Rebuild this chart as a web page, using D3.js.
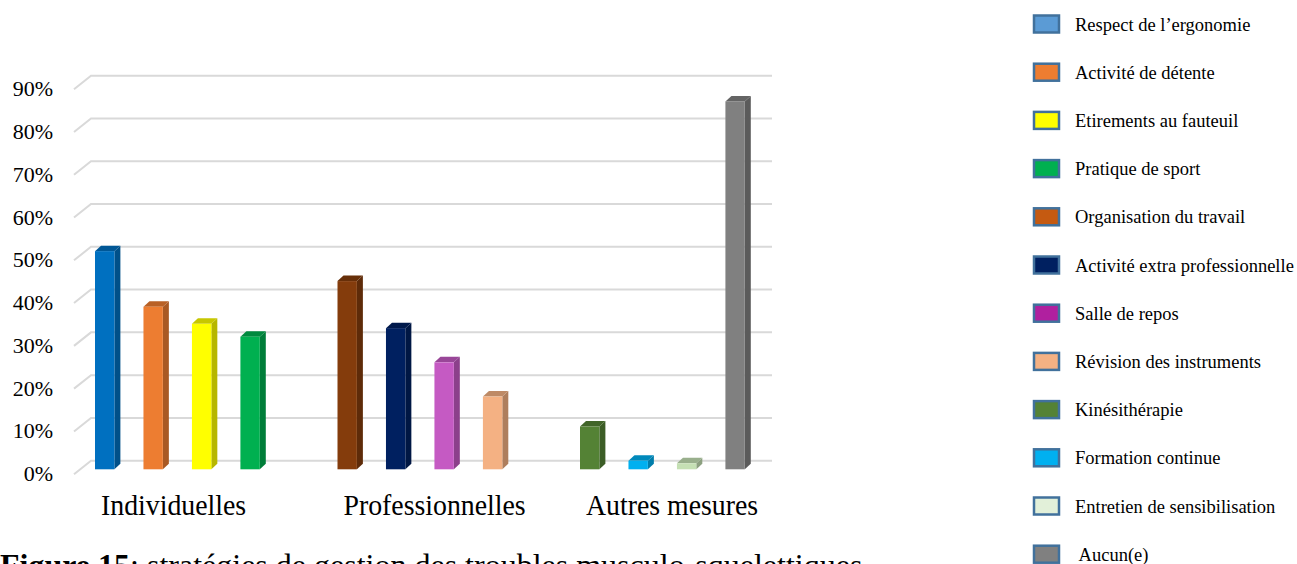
<!DOCTYPE html>
<html>
<head>
<meta charset="utf-8">
<script src="https://cdn.jsdelivr.net/npm/d3@7"></script>
<style>
  html, body { margin: 0; padding: 0; background: #fff; }
  svg { display: block; }
  text { font-family: "Liberation Serif", "Times New Roman", serif; fill: #000; }
</style>
</head>
<body>
<svg id="chart" width="1297" height="564"></svg>
<script>
// Stratégies de gestion des troubles musculo-squelettiques
const categories = ["Individuelles", "Professionnelles", "Autres mesures"];
const seriesNames = [
  "Respect de l\u2019ergonomie", "Activité de détente", "Etirements au fauteuil", "Pratique de sport",
  "Organisation du travail", "Activité extra professionnelle", "Salle de repos", "Révision des instruments",
  "Kinésithérapie", "Formation continue", "Entretien de sensibilisation", " Aucun(e)"
];
const seriesCategory = [0, 0, 0, 0, 1, 1, 1, 1, 2, 2, 2, 2];
const seriesSlot = [0, 1, 2, 3, 0, 1, 2, 3, 0, 1, 2, 3];
const seriesValues = [0.51, 0.38, 0.34, 0.31, 0.44, 0.33, 0.25, 0.17, 0.10, 0.02, 0.014, 0.86];
const barColors = ["#0070c0", "#ed7d31", "#ffff00", "#00b050", "#843c0c", "#002060",
                   "#c55ac3", "#f4b183", "#548235", "#00b0f0", "#c5e0b4", "#808080"];
const legendColors = ["#5b9bd5", "#ed7d31", "#ffff00", "#00b050", "#c55a11", "#002060",
                      "#b0209f", "#f4b183", "#548235", "#00b0f0", "#e2f0d9", "#808080"];
const tickValues = [0, 0.1, 0.2, 0.3, 0.4, 0.5, 0.6, 0.7, 0.8, 0.9];

const svg = d3.select("#chart");

// Back wall scale and oblique depth offsets
const y = d3.scaleLinear().domain([0, 0.9]).range([460.7, 75.7]);
const floorDx = 17, floorDy = 13.5;   // wall-to-front offset of the floor edge
const frontDy = 8.6;                  // bar front plane below the wall
const barDx = 6, barDy = 5.5;         // bar depth

const gx = d3.scaleBand().domain(categories).range([95, 95 + 3 * 242.5]);
const sx = d3.scaleBand().domain([0, 1, 2, 3]).range([0, 164.8]).paddingInner(0.6).paddingOuter(0);
const wallLeft = 91, wallRight = 772;

// Gridlines on the back wall with floor-side diagonals
const grid = svg.append("g").attr("stroke", "#d9d9d9").attr("stroke-width", 2).attr("fill", "none");
tickValues.forEach(v => {
  grid.append("path")
    .attr("d", d3.line()([[wallLeft - floorDx, y(v) + floorDy], [wallLeft, y(v)], [wallRight, y(v)]]));
});

// Y tick labels
svg.append("g").selectAll("text").data(tickValues).join("text")
  .attr("x", 53)
  .attr("y", d => y(d) + 20.5)
  .attr("text-anchor", "end")
  .attr("font-size", 22)
  .text(d3.format(".0%"));

// 3D columns
const bars = svg.append("g");
seriesValues.forEach((v, i) => {
  const x0 = gx(categories[seriesCategory[i]]) + sx(seriesSlot[i]);
  const w = sx.bandwidth();
  const base = y(0) + frontDy;
  const top = y(v) + frontDy;
  const c = d3.color(barColors[i]);
  const g = bars.append("g");
  g.append("polygon")
    .attr("points", [[x0 + w, top], [x0 + w + barDx, top - barDy], [x0 + w + barDx, base - barDy], [x0 + w, base]].join(" "))
    .attr("fill", c.darker(0.95));
  g.append("polygon")
    .attr("points", [[x0, top], [x0 + barDx, top - barDy], [x0 + w + barDx, top - barDy], [x0 + w, top]].join(" "))
    .attr("fill", c.darker(0.7));
  g.append("rect")
    .attr("x", x0).attr("y", top)
    .attr("width", w).attr("height", base - top)
    .attr("fill", c);
});

// Category labels
svg.append("g").selectAll("text").data(categories).join("text")
  .attr("transform", d => `translate(${gx(d) + 6},515) scale(0.927,1)`)
  .attr("font-size", 30)
  .text(d => d);

// Legend
const legend = svg.append("g");
seriesNames.forEach((name, i) => {
  const cy = 24 + 48.2 * i;
  legend.append("rect")
    .attr("x", 1034).attr("y", cy - 8.5)
    .attr("width", 25).attr("height", 17)
    .attr("fill", legendColors[i])
    .attr("stroke", "#41719c").attr("stroke-width", 2.5);
  legend.append("text")
    .attr("x", 1075).attr("y", cy + 6.5)
    .attr("font-size", 18.5)
    .style("white-space", "pre")
    .text(name);
});

// Figure caption
const cap = svg.append("text").attr("x", 0).attr("y", 576).attr("font-size", 32);
cap.append("tspan").attr("font-weight", "bold").text("Figure 15");
cap.append("tspan").text(": stratégies de gestion des troubles musculo-squelettiques");
</script>
</body>
</html>
